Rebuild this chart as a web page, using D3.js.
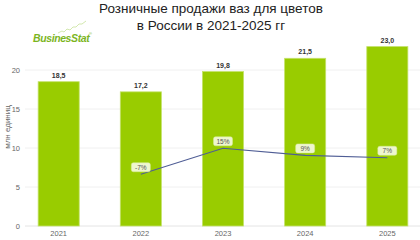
<!DOCTYPE html>
<html>
<head>
<meta charset="utf-8">
<script src="https://cdn.jsdelivr.net/npm/d3@7"></script>
<style>
  body { margin: 0; background: #fff; }
  text { font-family: "Liberation Sans", Arial, sans-serif; }
</style>
</head>
<body>
<div id="chart"></div>
<script>
// chart data
var years = ["2021", "2022", "2023", "2024", "2025"];
var sales = [18.5, 17.2, 19.8, 21.5, 23.0];
var growthYears = ["2022", "2023", "2024", "2025"];
var growth = [-7, 15, 9, 7];
var yTicks = [0, 5, 10, 15, 20];

var svgWidth = 420, svgHeight = 240;

var svg = d3.select("#chart")
  .append("svg")
  .attr("width", svgWidth)
  .attr("height", svgHeight);

// title
var title = svg.append("text")
  .attr("text-anchor", "middle")
  .attr("fill", "#222")
  .style("font-size", "13.5px");
title.append("tspan").attr("x", 211).attr("y", 13).text("Розничные продажи ваз для цветов");
title.append("tspan").attr("x", 211).attr("y", 30).text("в России в 2021-2025 гг");

// logo
var logo = svg.append("g");
logo.append("path")
  .attr("d", "M58,33 L62,31 L64,32 L67,29 L70,30 L73,27 L76,27 L79,24 L82,24 L86,21")
  .attr("fill", "none")
  .attr("stroke", "#c8e29a")
  .attr("stroke-width", 0.8);
logo.append("text")
  .attr("x", 33)
  .attr("y", 42)
  .attr("fill", "#7cb51e")
  .style("font-size", "10.5px")
  .style("font-weight", "bold")
  .style("font-style", "italic")
  .style("letter-spacing", "-0.4px")
  .text("BusinesStat");
logo.append("text")
  .attr("x", 89)
  .attr("y", 35)
  .attr("fill", "#7cb51e")
  .style("font-size", "4px")
  .text("®");

// scales
var x = d3.scaleBand()
  .domain(years)
  .range([25, 421])
  .paddingInner(0.5)
  .paddingOuter(0.16);

var y = d3.scaleLinear()
  .domain([0, 20])
  .range([226, 70]);

// growth line sits on its own scale
var y2 = d3.scaleLinear()
  .domain([0, 15])
  .range([166, 148.3]);

// grid
svg.append("g")
  .selectAll("line")
  .data(yTicks)
  .enter()
  .append("line")
  .attr("x1", 25)
  .attr("x2", 420)
  .attr("y1", d => y(d))
  .attr("y2", d => y(d))
  .attr("stroke", d => d === 0 ? "#e4e4e4" : "#f0f0f0")
  .attr("stroke-width", 1);

// y axis
var leftAxis = d3.axisLeft(y).tickValues(yTicks).tickSize(0).tickPadding(4);
var yAxis = svg.append("g")
  .attr("transform", "translate(24,0)")
  .call(leftAxis);
yAxis.select(".domain").remove();
yAxis.selectAll("text")
  .attr("fill", "#666")
  .style("font-size", "7.5px");

svg.append("text")
  .attr("transform", "rotate(-90)")
  .attr("x", -127)
  .attr("y", 10)
  .attr("text-anchor", "middle")
  .attr("fill", "#666")
  .style("font-size", "8px")
  .text("млн единиц");

// x axis
var bottomAxis = d3.axisBottom(x).tickSize(0).tickPadding(5);
var xAxis = svg.append("g")
  .attr("transform", "translate(0,226)")
  .call(bottomAxis);
xAxis.select(".domain").remove();
xAxis.selectAll("text")
  .attr("fill", "#666")
  .style("font-size", "7.5px");

// bars
svg.append("g")
  .selectAll("rect")
  .data(sales)
  .enter()
  .append("rect")
  .attr("x", (d, i) => x(years[i]))
  .attr("y", d => y(d))
  .attr("width", x.bandwidth())
  .attr("height", d => y(0) - y(d))
  .attr("fill", "#99cc00")
  .attr("stroke", "#c4e26a")
  .attr("stroke-width", 0.8);

// bar labels
svg.append("g")
  .selectAll("text")
  .data(sales)
  .enter()
  .append("text")
  .attr("x", (d, i) => x(years[i]) + x.bandwidth() / 2)
  .attr("y", d => y(d) - 4)
  .attr("text-anchor", "middle")
  .attr("fill", "#333")
  .style("font-size", "7px")
  .style("font-weight", "bold")
  .text(d => d.toFixed(1).replace(".", ","));

// growth line
var line = d3.line()
  .x((d, i) => x(growthYears[i]) + x.bandwidth() / 2)
  .y(d => y2(d));

svg.append("path")
  .datum(growth)
  .attr("d", line)
  .attr("fill", "none")
  .attr("stroke", "#4f5d95")
  .attr("stroke-width", 1.1);

// growth labels
var gl = svg.append("g")
  .selectAll("g")
  .data(growth)
  .enter()
  .append("g")
  .attr("transform", (d, i) => `translate(${x(growthYears[i]) + x.bandwidth() / 2},${y2(d) - 7})`);

gl.append("rect")
  .attr("x", -9.5)
  .attr("y", -4.5)
  .attr("width", 19)
  .attr("height", 9)
  .attr("rx", 2)
  .attr("fill", "#eef6cf")
  .attr("stroke", "#d8ec9a")
  .attr("stroke-width", 0.5);

gl.append("text")
  .attr("text-anchor", "middle")
  .attr("y", 2.5)
  .attr("fill", "#555")
  .style("font-size", "6.5px")
  .text(d => d + "%");
</script>
</body>
</html>
